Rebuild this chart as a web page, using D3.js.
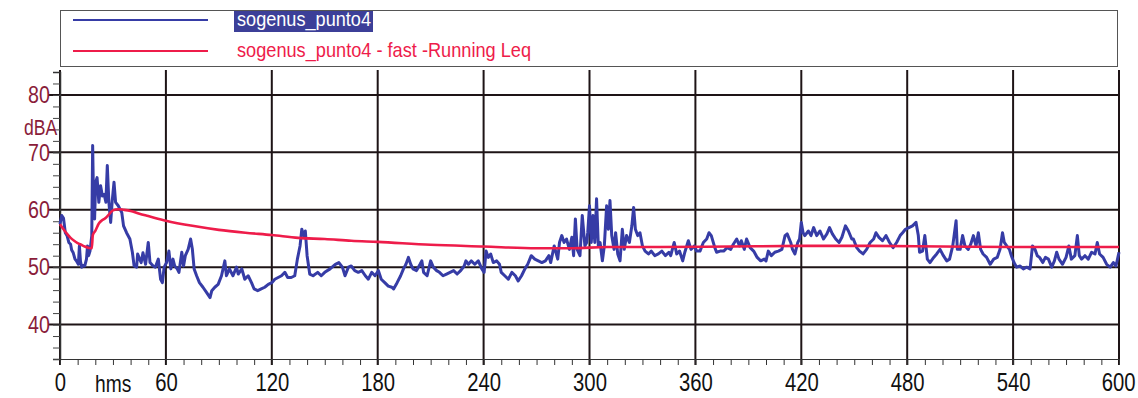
<!DOCTYPE html>
<html>
<head>
<meta charset="utf-8">
<script src="https://cdn.jsdelivr.net/npm/d3@7/dist/d3.min.js"></script>
<style>
  html, body { margin: 0; padding: 0; background: #fff; }
  svg { display: block; }
  text { font-family: "Liberation Sans", Arial, sans-serif; }
</style>
</head>
<body>
<svg id="chart" width="1138" height="398"></svg>
<script>
// Sound level measurement, point 4 (seconds, dBA)
const seriesNames = ["sogenus_punto4", "sogenus_punto4 - fast -Running Leq"];

const xTicks = [0, 60, 120, 180, 240, 300, 360, 420, 480, 540, 600];
const yTicks = [40, 50, 60, 70, 80];
const xUnit = "hms";
const yUnit = "dBA";

// Instantaneous level [seconds, dBA]
const levelSamples = [
  [0,57.5],[1,59],[2,58.5],[3,56],[4,55.5],[5,54.3],[6,54],[6.6,53],[7.5,52.5],[8.5,51.4],[9.5,51],[10.4,50.5],[11,53.7],[11.6,51],[12.3,50],[13.2,50.3],[14,50.2],[15,51.4],[15.6,53.7],[16.2,52],[17,52.8],[18,55.5],[18.5,71.2],[19.1,60],[19.6,58.4],[20.2,64.8],[21,65.6],[22,61.3],[23,64.2],[24,62.4],[25,62.7],[26,61.3],[26.8,67.7],[27.7,61.3],[28.7,57.8],[29.6,61.6],[30.6,64.8],[31.5,61.3],[33,60.7],[35,59.5],[36,57.2],[37.7,56],[39.6,54.9],[41,52.6],[42,50.2],[43.4,50],[44,52.3],[45,51.5],[46,50.8],[47,52.5],[48.5,50.5],[50,54.3],[51,50.8],[52.8,50.2],[54,50],[55.7,51.4],[57,47.9],[58,47.3],[59,50],[60.4,50.8],[61.7,52.8],[62.8,49.7],[64,51.4],[65,50.2],[66.4,49.7],[67.4,49.1],[69,52.6],[70,50.2],[71,52],[72.6,53.1],[74,54.9],[75,53.1],[76,49.7],[77.4,48.5],[79,47.3],[81,46.5],[83,45.6],[85,44.7],[86,45.9],[87.7,46.5],[89.6,47],[91.5,48.5],[93.4,51.1],[94.3,48.5],[96,49.7],[98,48.5],[100,50],[101,48.8],[103,49.7],[104.7,47.9],[106.6,48.5],[108.5,47.3],[110,46.2],[112,45.9],[114,46.2],[116,46.5],[118,47],[120,47.3],[121.7,47.9],[123.6,48.2],[125.5,48.5],[127.4,49.1],[129,48.2],[131,48.2],[133,48.5],[134.5,51.4],[136,53.7],[137,56.6],[138,55.5],[139,56.3],[140,52],[141.5,48.8],[143.4,48.5],[146,49.1],[148,48.5],[150,49.1],
  [153,49.7],[156,50.5],[158,50.8],[160,50],[161.5,48.5],[163.4,50],[165,50.2],[167,49.4],[169,49.1],[171,49.4],[173,48.5],[174.7,47.9],[176.6,49.1],[178.5,48.5],[180.4,49.4],[182,47.9],[184,47.3],[186,46.7],[188,46.5],[189,46.2],[191,47.3],[193,48.5],[194.6,49.7],[196,50.5],[197.4,51.7],[198.7,50.5],[200,49.7],[202,49.4],[204,50.5],[205,51.1],[206,49.1],[208,48.5],[210,51.1],[211.5,50],[213.4,49.4],[215,49.1],[217,48.5],[219,48.8],[221,49.1],[223,49.4],[225,48.8],[227,49.4],[229,50.2],[230,51.1],[231.4,50.5],[233,51.1],[235,50.5],[237,51.1],[239,49.7],[240.3,49.1],[241.4,52.8],[242.7,51.7],[244,52.3],[245.5,50.8],[247.4,51.1],[249,50.5],[250,49.1],[252,48.5],[254,47.9],[256,49.1],[258,48.5],[259.6,47.6],[261.5,48.5],[263.4,49.7],[265,50.5],[267,52],[269,51.4],[271,51.1],[273,50.8],[275,51.1],[277,52],[278,50.8],[280,53.7],[282,51.4],[283,54.3],[284.3,55.5],[285.6,54.3],[287,54.9],[288.6,53.1],[290,55.2],[291,52],[292,58.4],[293,53.1],[294.6,52],[295.9,59],[297.4,53.7],[298.4,54.3],[299,56],
  [300,60.7],[301,54.3],[302,59],[303,54.3],[304,61.9],[305,53.7],[306,54.3],[307.3,51.1],[308.4,53.7],[309.7,60.7],[310.7,56.6],[311.6,61.6],[312.6,55.5],[313.9,53.1],[314.8,56],[316,52.3],[317.3,51.1],[318.6,56.6],[319.7,53.1],[321,55.5],[322.6,54.3],[324,57.2],[325,60.4],[326,56.6],[327.3,55.5],[328.6,56],[330,53.7],[331.5,52.8],[333.4,52.3],[335,52.8],[337,52],[339,52.3],[341,52.8],[343,52],[345,52.6],[346,52],[348,54.3],[349.4,52.3],[351,52.8],[352.8,51.1],[354,52.6],[356,54.6],[357.5,53.1],[359.4,53.7],[360.7,52.8],[362.6,52.8],[364.5,54.3],[366.4,54.9],[367.7,56],[369,55.5],[371,53.4],[372,52.6],[374,52.8],[376,52.8],[378,53.4],[380,53.1],[381.5,54],[383.4,54.9],[385,53.7],[386,54.6],[387.7,53.1],[389,54.9],[391,53.4],[393,52.8],[395,51.7],[397,51.1],[399,51.4],[400,51.1],[401.3,52.8],[403,52],[405,52.6],[407,52.8],[409,53.1],[410.8,55.5],[412,55.8],[414,54.3],[415,53.1],[416.4,52.3],[418,54.3],[419,54.9],[420,57.8],[421,56],[422,55.5],[424,56.3],[425.5,55.5],[427,56.9],[428.7,55.5],[430.6,56.3],[432.6,54.9],[434.5,55.8],[436,56.9],[437.6,55.8],[439.5,54.9],[441.4,54.3],[443,55.2],[445,57.2],[446.7,56.3],[448.6,54.9],
  [449.5,54.9],[451.4,53.4],[453,52.8],[455,52.3],[457,53.1],[459,54.3],[461,54.9],[462.3,56],[464,55.2],[466,54.6],[468,55.5],[470,54.3],[472,53.4],[474,54.3],[476,55.5],[477.4,56],[479,56.6],[481,56.9],[483,57.2],[485,57.8],[486.3,55.5],[487,52.6],[488.7,52.8],[490,55.5],[491.4,51.4],[492.9,50.8],[495,51.7],[496.7,52.3],[498.6,53.1],[500.5,52],[502.4,51.1],[504,51.4],[505.8,53.7],[507.7,58.1],[508.4,53.1],[510,53.1],[511.4,55.5],[512.7,53.7],[514.6,53.1],[516,54],[517.5,55.5],[519,53.7],[520.3,56],[521.6,53.1],[523,52.3],[525,51.7],[527,50.5],[529,51.4],[531,51.7],[532.6,53.1],[534,56],[535,54.3],[536.4,53.7],[537.9,53.1],[539,52],[540.5,50.8],[542,50],[544,50.2],[545.8,49.7],[547.7,50],[549.6,49.7],[551,53.7],[552.4,53.1],[553.7,52],[555,51.7],[556.8,50.8],[558.3,51.7],[560,51.4],[561.9,50],[563.4,51.1],[564.7,52.6],[566,51.4],[568,50.5],[570,51.7],[571.6,53.7],[573,51.4],[575,52],[576.4,55.5],[577.5,52],[578.8,51.4],[580.7,52],[582.6,51.4],[584.5,52.6],[586.4,52.3],[587.7,54.3],[589,52.3],[591,51.7],[593,50.5],[595,50],[596.8,50.8],[598.3,50.2],[600,52.6]
];

// Running Leq [seconds, dBA]
const leqSamples = [
  [0,57.5],[2,56.6],[4,55.8],[6,55.1],[8,54.6],[10,54.2],[12,53.9],[14,53.6],[16,53.4],[18,53.3],[18.6,55.6],[20,56.3],[22,57.6],[24,58.2],[26,58.6],[28,59.3],[30,59.9],[33,60.1],[36,60],[40,59.8],[45,59.3],[50,58.9],[60,58.1],[75,57.2],[90,56.5],[105,56],[120,55.6],[135,55.1],[150,54.9],[165,54.6],[180,54.4],[210,53.9],[240,53.6],[270,53.3],[290,53.3],[310,53.5],[340,53.5],[380,53.6],[420,53.7],[460,53.7],[500,53.6],[540,53.5],[600,53.5]
];

const colors = { level: "#363ca6", leq: "#ee1c4a", grid: "#1e1416", yLabel: "#8a1c3a", text: "#111" };

// Narrow type: squeeze each label horizontally about its anchor point
function condense(sel, factor) {
  sel.each(function () {
    const t = d3.select(this);
    const x0 = +(t.attr("x") || 0);
    t.attr("x", x0 / factor).attr("transform", `scale(${factor},1)`);
  });
}

const svg = d3.select("#chart");
const plot = { left: 60, right: 1119, top: 72, bottom: 359 };

const x = d3.scaleLinear().domain([0, 600]).range([plot.left, plot.right]);
const y = d3.scaleLinear().domain([34, 84]).range([plot.bottom, plot.top]);

// Legend box
const legend = svg.append("g");
legend.append("rect")
  .attr("x", 60.5).attr("y", 10.5).attr("width", 1057).attr("height", 56)
  .attr("fill", "#fff").attr("stroke", "#555").attr("stroke-width", 1);

const legendRows = [
  { name: seriesNames[0], color: colors.level, y: 20, width: 134 },
  { name: seriesNames[1], color: colors.leq, y: 51, width: 294 }
];
legendRows.forEach((r, i) => {
  legend.append("line")
    .attr("x1", 73).attr("x2", 208).attr("y1", r.y).attr("y2", r.y)
    .attr("stroke", r.color).attr("stroke-width", 2);
  legend.append("text")
    .attr("x", 237).attr("y", r.y + 6)
    .attr("font-size", 21)
    .attr("fill", i === 0 ? "#fff" : r.color)
    .attr("textLength", r.width).attr("lengthAdjust", "spacingAndGlyphs")
    .text(r.name);
  if (i === 0) {
    legend.insert("rect", "text")
      .attr("x", 234).attr("y", 11).attr("width", r.width + 5).attr("height", 21)
      .attr("fill", "#3c3f98");
  }
});

// Grid
const grid = svg.append("g");
grid.selectAll("line.v").data(xTicks).join("line")
  .attr("class", "v")
  .attr("x1", d => x(d)).attr("x2", d => x(d))
  .attr("y1", 70).attr("y2", plot.bottom + 6)
  .attr("stroke", colors.grid).attr("stroke-width", 2);
grid.selectAll("line.h").data(yTicks).join("line")
  .attr("class", "h")
  .attr("x1", 48).attr("x2", plot.right)
  .attr("y1", d => y(d)).attr("y2", d => y(d))
  .attr("stroke", colors.grid).attr("stroke-width", 2);

// Minor ticks on the axes
const xMinor = d3.range(0, 601, 10);
const yMinor = d3.range(34, 84, 2);

const xAxisMinor = svg.append("g")
  .attr("transform", `translate(0,${plot.bottom})`)
  .call(d3.axisBottom(x).tickValues(xMinor).tickSize(6).tickFormat(""));
xAxisMinor.select(".domain").attr("stroke", "#333").attr("stroke-width", 1);
xAxisMinor.selectAll(".tick line").attr("stroke", "#333");

const yAxisMinor = svg.append("g")
  .attr("transform", `translate(${plot.left},0)`)
  .call(d3.axisLeft(y).tickValues(yMinor).tickSize(7).tickFormat(""));
yAxisMinor.select(".domain").attr("stroke", "#333").attr("stroke-width", 1.5);
yAxisMinor.selectAll(".tick line").attr("stroke", "#444");

// Tick labels
const xAxis = svg.append("g")
  .attr("transform", `translate(0,${plot.bottom})`)
  .call(d3.axisBottom(x).tickValues(xTicks).tickSize(0).tickPadding(14));
xAxis.select(".domain").remove();
// keep the last label inside the page
xAxis.selectAll("text").filter(d => d === 600)
  .attr("text-anchor", "end")
  .attr("x", 16);
xAxis.selectAll("text")
  .attr("font-size", 26).attr("fill", colors.text)
  .style("font-family", '"Liberation Sans", Arial, sans-serif')
  .call(condense, 0.78);

const yAxis = svg.append("g")
  .attr("transform", `translate(${plot.left},0)`)
  .call(d3.axisLeft(y).tickValues(yTicks).tickSize(0).tickPadding(10));
yAxis.select(".domain").remove();
yAxis.selectAll("text")
  .attr("font-size", 24).attr("fill", colors.yLabel)
  .style("font-family", '"Liberation Sans", Arial, sans-serif')
  .call(condense, 0.82);

svg.append("text")
  .attr("x", 24).attr("y", 135)
  .attr("font-size", 22).attr("fill", colors.yLabel)
  .text(yUnit)
  .call(condense, 0.8);

svg.append("text")
  .attr("x", 95).attr("y", 392)
  .attr("font-size", 24).attr("fill", colors.text)
  .text(xUnit)
  .call(condense, 0.8);

// Series
const line = d3.line().x(d => x(d[0])).y(d => y(d[1]));

svg.append("path")
  .datum(levelSamples)
  .attr("fill", "none")
  .attr("stroke", colors.level)
  .attr("stroke-width", 3)
  .attr("stroke-linejoin", "round")
  .attr("d", line);

svg.append("path")
  .datum(leqSamples)
  .attr("fill", "none")
  .attr("stroke", colors.leq)
  .attr("stroke-width", 2.6)
  .attr("d", line.curve(d3.curveMonotoneX));
</script>
</body>
</html>
